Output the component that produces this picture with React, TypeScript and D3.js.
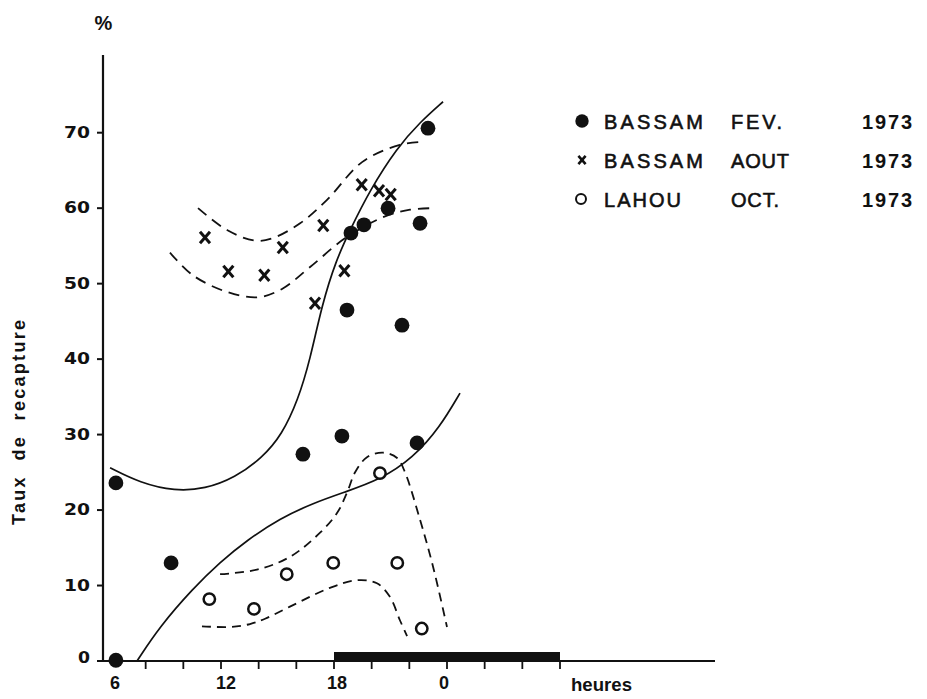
import React from "react";
import * as d3 from "d3";

// ---------- data (hours of day: 24 = 0h next day, 30 = 6h next day) ----------
const fevHours = [6.42, 6.42, 9.35, 16.35, 18.42, 22.41, 18.69, 21.61, 18.9, 19.59, 20.87, 22.57, 22.99];
const fevValues = [0.1, 23.6, 13.0, 27.4, 29.8, 28.9, 46.5, 44.5, 56.7, 57.8, 60.0, 58.0, 70.6];

const aoutHours = [11.15, 12.39, 14.3, 15.28, 17.43, 16.99, 18.55, 19.47, 20.39, 21.01];
const aoutValues = [56.1, 51.6, 51.1, 54.8, 57.7, 47.4, 51.7, 63.1, 62.3, 61.8];

const lahouHours = [11.38, 13.75, 15.49, 17.96, 20.44, 21.36, 22.66];
const lahouValues = [8.2, 6.9, 11.5, 13.0, 24.9, 13.0, 4.3];

// fitted curves (hand-drawn in original), [hour, %]
const fevCurve: [number, number][] = [
  [6.11, 25.6], [7.7, 23.6], [9.56, 22.5], [11.15, 22.8], [12.74, 24.3], [14.18, 26.9],
  [15.24, 30.0], [16.09, 34.6], [16.73, 39.9], [17.36, 47.2], [18.11, 53.1], [18.85, 57.1],
  [19.91, 62.4], [21.35, 68.0], [22.57, 71.4], [23.79, 74.1],
];
const lahouCurve: [number, number][] = [
  [7.54, 0], [8.76, 4.6], [10.51, 9.6], [11.95, 13.1], [13.38, 16.0], [15.13, 18.9],
  [16.89, 20.9], [18.48, 22.3], [20.44, 24.0], [22.2, 26.9], [23.63, 31.0], [24.69, 35.5],
];
const aoutUpper: [number, number][] = [
  [10.78, 60.0], [12.32, 57.1], [13.8, 55.7], [14.71, 56.0], [16.2, 58.0], [17.63, 61.1],
  [19.49, 66.1], [21.5, 68.4], [22.73, 68.8],
];
const aoutLower: [number, number][] = [
  [9.29, 54.1], [10.51, 51.1], [12.32, 48.9], [13.97, 48.2], [15.24, 49.3], [16.73, 52.2],
  [18.58, 56.0], [20.6, 58.8], [22.04, 59.8], [23.26, 60.0],
];
const lahouUpper: [number, number][] = [
  [11.95, 11.5], [13.91, 12.1], [15.66, 13.8], [17.26, 17.0], [18.16, 19.6], [18.69, 22.3],
  [19.12, 25.0], [19.75, 27.0], [20.6, 27.6], [21.35, 26.9], [21.77, 25.0], [22.57, 18.7],
  [23.26, 12.5], [24.0, 4.5],
];
const lahouLower: [number, number][] = [
  [10.99, 4.6], [12.48, 4.5], [13.54, 4.9], [14.34, 5.6], [15.66, 7.2], [17.79, 9.7],
  [19.22, 10.7], [20.28, 10.3], [20.97, 8.5], [21.5, 5.4], [21.88, 3.3],
];

const yTicks = [0, 10, 20, 30, 40, 50, 60, 70];
const xMinorTicks = [8, 10, 12, 14, 16, 18, 20, 22, 24, 26, 28, 30];
const xLabelHours = [6, 12, 18, 24];
const xLabels = ["6", "12", "18", "0"];
const nightBar = [18, 30];

const legendNames = ["BASSAM", "BASSAM", "LAHOU"];
const legendMonths = ["FEV.", "AOUT", "OCT."];
const legendYears = ["1973", "1973", "1973"];

const FONT = "'Liberation Sans', Arial, sans-serif";
const WIDE = "'DejaVu Sans', 'Liberation Sans', sans-serif";
const INK = "#111";

export default function App() {
  const x = d3.scaleLinear().domain([6, 30]).range([108, 560]);
  const y = d3.scaleLinear().domain([0, 70]).range([661, 132.7]);

  const smooth = d3
    .line<[number, number]>()
    .x((d) => x(d[0]))
    .y((d) => y(d[1]))
    .curve(d3.curveBasis);
  const thru = d3
    .line<[number, number]>()
    .x((d) => x(d[0]))
    .y((d) => y(d[1]))
    .curve(d3.curveCatmullRom.alpha(0.5));

  const xLabelDx = [7, 5, 3, -3];
  const legendRowY = [121, 160, 199];
  const nameW = [99, 99, 77];
  const monthW = [51, 58, 48];

  const cross = (cx: number, cy: number, s: number, sw: number, key: string) => (
    <g key={key} stroke={INK} strokeWidth={sw} strokeLinecap="butt">
      <line x1={cx - s} y1={cy - s * 1.15} x2={cx + s} y2={cy + s * 1.15} />
      <line x1={cx + s} y1={cy - s * 1.15} x2={cx - s} y2={cy + s * 1.15} />
    </g>
  );

  return (
    <svg
      width={927}
      height={699}
      style={{ position: "absolute", left: 0, top: 0, background: "#fff" }}
      fontFamily={FONT}
    >
      <rect x={0} y={0} width={927} height={699} fill="#fff" />

      {/* axes */}
      <line x1={103} y1={55} x2={103} y2={662} stroke={INK} strokeWidth={2.2} />
      <line x1={102} y1={661} x2={715} y2={661} stroke={INK} strokeWidth={2.2} />

      {/* night bar */}
      <rect
        x={x(nightBar[0])}
        y={652}
        width={x(nightBar[1]) - x(nightBar[0])}
        height={9}
        fill={INK}
      />

      {/* y ticks */}
      {yTicks.map((t) => (
        <g key={"yt" + t}>
          <line x1={97} y1={y(t)} x2={103} y2={y(t)} stroke={INK} strokeWidth={2} />
          <text
            x={90}
            y={y(t) - (t === 0 ? 3 : 0)}
            textAnchor="end"
            dominantBaseline="central"
            fontFamily={WIDE}
            fontSize={15}
            fontWeight="bold"
            fill={INK}
            textLength={t === 0 ? 12 : 26}
            lengthAdjust="spacingAndGlyphs"
          >
            {t}
          </text>
        </g>
      ))}

      {/* x ticks */}
      {xMinorTicks.map((t) => (
        <line key={"xt" + t} x1={x(t)} y1={661} x2={x(t)} y2={669} stroke={INK} strokeWidth={1.8} />
      ))}
      {xLabelHours.map((h, i) => (
        <text
          key={"xl" + h}
          x={x(h) + xLabelDx[i]}
          y={689}
          textAnchor="middle"
          fontSize={18}
          fontWeight="bold"
          fill={INK}
        >
          {xLabels[i]}
        </text>
      ))}
      <text x={571} y={691} fontSize={18} fontWeight="bold" fill={INK} textLength={61} lengthAdjust="spacingAndGlyphs">
        heures
      </text>

      {/* % and y title */}
      <text x={103.5} y={30} textAnchor="middle" fontSize={20} fontWeight="bold" fill={INK}>
        %
      </text>
      <text
        transform="translate(25,525) rotate(-90)"
        x={0}
        y={0}
        fontSize={18}
        fontWeight="bold"
        fill={INK}
        textLength={205}
        lengthAdjust="spacing"
        style={{ whiteSpace: "pre" }}
      >
        Taux  de  recapture
      </text>

      {/* curves */}
      <g fill="none" stroke={INK}>
        <path d={smooth(fevCurve) || ""} strokeWidth={1.7} />
        <path d={smooth(lahouCurve) || ""} strokeWidth={1.7} />
        <path d={thru(aoutUpper) || ""} strokeWidth={1.8} strokeDasharray="11 7" />
        <path d={thru(aoutLower) || ""} strokeWidth={1.8} strokeDasharray="11 7" />
        <path d={thru(lahouUpper) || ""} strokeWidth={1.8} strokeDasharray="9 6" />
        <path d={thru(lahouLower) || ""} strokeWidth={1.8} strokeDasharray="9 6" />
      </g>

      {/* points */}
      {fevHours.map((h, i) => (
        <circle key={"f" + i} cx={x(h)} cy={y(fevValues[i])} r={7.4} fill={INK} />
      ))}
      {lahouHours.map((h, i) => (
        <circle
          key={"l" + i}
          cx={x(h)}
          cy={y(lahouValues[i])}
          r={5.7}
          fill="#fff"
          stroke={INK}
          strokeWidth={2.5}
        />
      ))}
      {aoutHours.map((h, i) => cross(x(h), y(aoutValues[i]), 5, 3, "a" + i))}

      {/* legend */}
      {legendRowY.map((ly, i) => (
        <g key={"lg" + i}>
          {i === 0 && <circle cx={582} cy={ly} r={6.7} fill={INK} />}
          {i === 1 && cross(582, ly, 3.6, 2.6, "lgx")}
          {i === 2 && <circle cx={581} cy={ly} r={5} fill="none" stroke={INK} strokeWidth={2} />}
          <text
            x={604}
            y={ly + 1}
            dominantBaseline="central"
            fontSize={20}
            fill={INK}
            textLength={nameW[i]}
            lengthAdjust="spacing"
            stroke={INK}
            strokeWidth={0.6}
          >
            {legendNames[i]}
          </text>
          <text
            x={731}
            y={ly + 1}
            dominantBaseline="central"
            fontSize={20}
            fill={INK}
            textLength={monthW[i]}
            lengthAdjust="spacing"
            stroke={INK}
            strokeWidth={0.6}
          >
            {legendMonths[i]}
          </text>
          <text
            x={862}
            y={ly + 1}
            dominantBaseline="central"
            fontSize={20}
            fill={INK}
            fontWeight="bold"
            textLength={50}
            lengthAdjust="spacing"
          >
            {legendYears[i]}
          </text>
        </g>
      ))}
    </svg>
  );
}
